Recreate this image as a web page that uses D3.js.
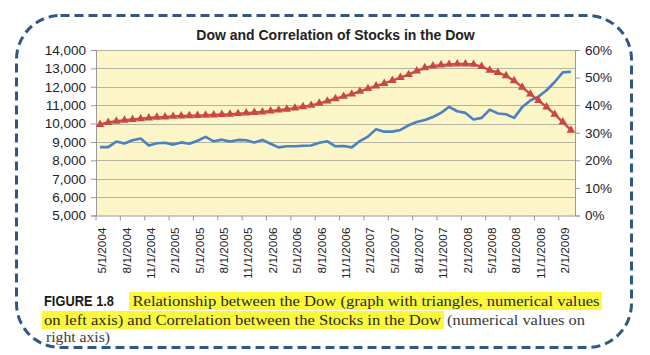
<!DOCTYPE html>
<html><head><meta charset="utf-8">
<script src="https://cdn.jsdelivr.net/npm/d3@7"></script>
<style>
html,body{margin:0;padding:0;background:#fff;}
svg{display:block;}
</style></head>
<body>
<svg id="chart" width="650" height="355"></svg>
<script>
// ---- DATA ----
const title = "Dow and Correlation of Stocks in the Dow";
const categories = [
 "5/1/2004","6/1/2004","7/1/2004","8/1/2004","9/1/2004","10/1/2004","11/1/2004","12/1/2004",
 "1/1/2005","2/1/2005","3/1/2005","4/1/2005","5/1/2005","6/1/2005","7/1/2005","8/1/2005","9/1/2005","10/1/2005","11/1/2005","12/1/2005",
 "1/1/2006","2/1/2006","3/1/2006","4/1/2006","5/1/2006","6/1/2006","7/1/2006","8/1/2006","9/1/2006","10/1/2006","11/1/2006","12/1/2006",
 "1/1/2007","2/1/2007","3/1/2007","4/1/2007","5/1/2007","6/1/2007","7/1/2007","8/1/2007","9/1/2007","10/1/2007","11/1/2007","12/1/2007",
 "1/1/2008","2/1/2008","3/1/2008","4/1/2008","5/1/2008","6/1/2008","7/1/2008","8/1/2008","9/1/2008","10/1/2008","11/1/2008","12/1/2008",
 "1/1/2009","2/1/2009","3/1/2009"
];
const tickLabels = ["5/1/2004","8/1/2004","11/1/2004","2/1/2005","5/1/2005","8/1/2005","11/1/2005",
 "2/1/2006","5/1/2006","8/1/2006","11/1/2006","2/1/2007","5/1/2007","8/1/2007","11/1/2007",
 "2/1/2008","5/1/2008","8/1/2008","11/1/2008","2/1/2009"];
// triangles series, left axis
const dowValues = [9950,10060,10130,10180,10220,10260,10300,10340,10360,10390,10410,10430,10440,10450,10470,
 10490,10510,10540,10570,10600,10630,10680,10730,10780,10840,10910,10990,11100,11220,11350,11480,11600,
 11750,11900,12040,12180,12340,12500,12660,12860,13030,13130,13180,13220,13240,13240,13220,13100,12900,
 12780,12600,12330,11980,11600,11250,10900,10500,10080,9640];
// plain line series, right axis (%)
const corrValues = [24.8,24.8,26.8,26.1,27.3,27.9,25.4,26.2,26.4,25.7,26.5,26.0,27.1,28.5,26.9,27.5,26.8,
 27.4,27.3,26.5,27.4,26.0,24.7,25.1,25.1,25.3,25.4,26.4,26.9,25.1,25.2,24.7,27.0,28.6,31.3,30.4,30.4,31.0,
 32.7,33.9,34.6,35.7,37.2,39.4,37.8,37.2,34.8,35.4,38.4,37.0,36.7,35.4,39.3,41.7,43.1,45.4,48.4,51.9,52.1];
const leftTicks = [5000,6000,7000,8000,9000,10000,11000,12000,13000,14000];
const rightTicks = [0,10,20,30,40,50,60];
const captionLabel = "FIGURE 1.8";
const captionLine1 = "Relationship between the Dow (graph with triangles, numerical values";
const captionLine2a = "on left axis) and Correlation between the Stocks in the Dow";
const captionLine2b = "(numerical values on";
const captionLine3 = "right axis)";

// ---- LAYOUT ----
const svg = d3.select("#chart");
const L = 96, R = 575, T = 50, B = 215.5;
const sans = "'Liberation Sans', Arial, sans-serif";
const serif = "'Liberation Serif', 'Times New Roman', serif";

// dashed rounded frame
svg.append("rect").attr("x",16.5).attr("y",15.5).attr("width",615).attr("height",332)
  .attr("rx",44).attr("ry",44).attr("fill","none")
  .attr("stroke","#2f5887").attr("stroke-width",3).attr("stroke-dasharray","9,5");

const x = d3.scalePoint().domain(categories).range([L,R]).padding(0.5);
const step = x.step();
const yL = d3.scaleLinear().domain([5000,14000]).range([B,T]);
const yR = d3.scaleLinear().domain([0,60]).range([B,T]);

// plot area
svg.append("rect").attr("x",L).attr("y",T).attr("width",R-L).attr("height",B-T).attr("fill","#fbf5c8");

// gridlines
svg.append("g").selectAll("line").data(leftTicks.slice(1)).join("line")
  .attr("x1",L).attr("x2",R).attr("y1",d=>Math.round(yL(d))+0.5).attr("y2",d=>Math.round(yL(d))+0.5)
  .attr("stroke","#b4b3a6").attr("stroke-width",1);

// left axis
const gL = svg.append("g").attr("transform",`translate(${L},0)`)
  .call(d3.axisLeft(yL).tickValues(leftTicks).tickSize(5).tickPadding(5).tickFormat(d3.format(",")));
gL.select(".domain").attr("stroke","#9a9a9a");
gL.selectAll(".tick line").attr("stroke","#9a9a9a");
gL.selectAll("text").attr("font-family",sans).attr("font-size","13.5px").attr("fill","#222");

// right axis
const gR = svg.append("g").attr("transform",`translate(${R},0)`)
  .call(d3.axisRight(yR).tickValues(rightTicks).tickSize(5).tickPadding(5).tickFormat(d=>d+"%"));
gR.select(".domain").attr("stroke","#9a9a9a");
gR.selectAll(".tick line").attr("stroke","#9a9a9a");
gR.selectAll("text").attr("font-family",sans).attr("font-size","13.5px").attr("fill","#222");

// bottom axis: labels on categories, tick marks between categories every 3
const gB = svg.append("g").attr("transform",`translate(0,${B})`)
  .call(d3.axisBottom(x).tickValues(tickLabels).tickSize(0).tickPadding(0));
gB.select(".domain").attr("stroke","#9a9a9a").attr("d",`M${L},0.5H${R}`);
gB.selectAll(".tick text")
  .attr("font-family",sans).attr("font-size","11.8px").attr("fill","#222")
  .attr("text-anchor","end").attr("transform","translate(1.5,12) rotate(-90)")
  .attr("x",0).attr("y",0).attr("dy","0.36em");
svg.append("g").selectAll("line").data(tickLabels).join("line")
  .attr("x1",d=>x(d)-step/2).attr("x2",d=>x(d)-step/2)
  .attr("y1",B).attr("y2",B+5).attr("stroke","#9a9a9a");

// series
const lineL = d3.line().x((d,i)=>x(categories[i])).y(d=>yL(d));
const lineR = d3.line().x((d,i)=>x(categories[i])).y(d=>yR(d));
svg.append("path").datum(corrValues).attr("d",lineR).attr("fill","none")
  .attr("stroke","#4a82c0").attr("stroke-width",2.6).attr("stroke-linejoin","round");
svg.append("path").datum(dowValues).attr("d",lineL).attr("fill","none")
  .attr("stroke","#cb4b48").attr("stroke-width",2.4).attr("stroke-linejoin","round");
const tri = d3.symbol().type(d3.symbolTriangle).size(32);
svg.append("g").selectAll("path").data(dowValues).join("path")
  .attr("d",tri).attr("transform",(d,i)=>`translate(${x(categories[i])},${yL(d)})`)
  .attr("fill","#c94845");

// title
svg.append("text").attr("x",(L+R)/2).attr("y",40).attr("text-anchor","middle")
  .attr("font-family",sans).attr("font-weight","bold").attr("font-size","14px").attr("fill","#222")
  .text(title);

// caption
svg.append("rect").attr("x",129).attr("y",292).attr("width",473).attr("height",18).attr("fill","#fbf83a");
svg.append("rect").attr("x",42).attr("y",311).attr("width",402).attr("height",18).attr("fill","#fbf83a");
svg.append("text").attr("x",44).attr("y",306).attr("font-family","'Liberation Sans Narrow', 'Arial Narrow', "+sans)
  .attr("font-weight","bold").attr("font-size","15px").attr("fill","#1a1a1a")
  .attr("textLength",70).attr("lengthAdjust","spacingAndGlyphs").text(captionLabel);
svg.append("text").attr("x",132.5).attr("y",306).attr("font-family",serif).attr("font-size","15.5px")
  .attr("fill","#2a2a2a").attr("textLength",467).attr("lengthAdjust","spacingAndGlyphs").text(captionLine1);
svg.append("text").attr("x",44).attr("y",324.5).attr("font-family",serif).attr("font-size","15.5px")
  .attr("fill","#2a2a2a").attr("textLength",397).attr("lengthAdjust","spacingAndGlyphs").text(captionLine2a);
svg.append("text").attr("x",447).attr("y",324.5).attr("font-family",serif).attr("font-size","15.5px")
  .attr("fill","#3a3a3a").attr("textLength",138).attr("lengthAdjust","spacingAndGlyphs").text(captionLine2b);
svg.append("text").attr("x",46).attr("y",342).attr("font-family",serif).attr("font-size","15.5px")
  .attr("fill","#3a3a3a").attr("textLength",64).attr("lengthAdjust","spacingAndGlyphs").text(captionLine3);
</script>
</body></html>
